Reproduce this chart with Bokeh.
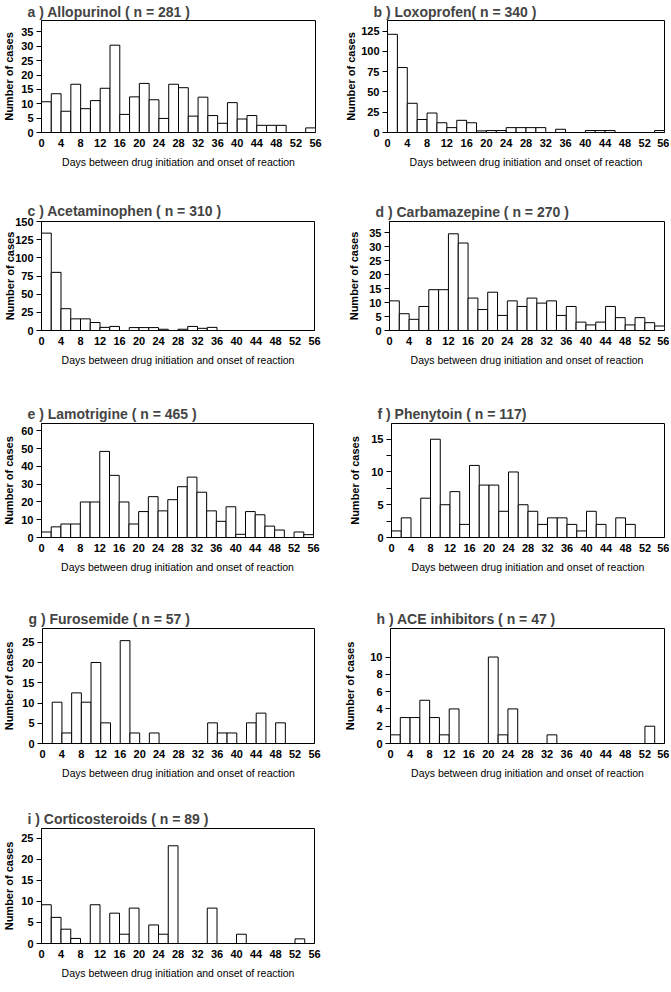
from bokeh.plotting import figure
from bokeh.layouts import column, row
from bokeh.models import FixedTicker, Range1d, ColumnDataSource, Spacer
from bokeh.embed import file_html
from bokeh.resources import INLINE

# ---------------- data ----------------
bin_starts = list(range(0, 56, 2))          # 2-day bins, 0..56
x_ticks = list(range(0, 57, 4))
x_label = "Days between drug initiation and onset of reaction"
y_label = "Number of cases"

allopurinol = [10.7, 13.5, 7.4, 16.8, 8.3, 11.1, 15.4, 30.4, 6.3, 12.4, 17.1, 11.4, 4.9, 16.8,
               15.6, 5.7, 12.3, 5.9, 3.2, 10.4, 4.7, 5.9, 2.5, 2.5, 2.5, 0, 0, 1.6]
loxoprofen = [121, 80, 36, 16, 24, 12, 6, 15, 12, 2, 2.4, 2.4, 6, 6,
              6, 6, 0, 4, 0, 0, 2.4, 2.4, 2.4, 0, 0, 0, 0, 2.4]
acetaminophen = [134, 80, 30, 16, 16, 11, 4.3, 5.6, 0, 4, 4, 4, 1.7, 0,
                 1.7, 5.6, 3, 4.3, 0, 0, 0, 0, 0, 0, 0, 0, 0, 0]
carbamazepine = [10.6, 6, 4, 8.6, 14.6, 14.6, 34.6, 31.3, 11.6, 7.5, 13.7, 5.4, 10.6, 8.6,
                 11.6, 9.8, 10.6, 5.4, 8.6, 3, 2, 3, 8.6, 4.6, 2, 4.6, 2.8, 1.6]
lamotrigine = [3.1, 6, 7.6, 7.6, 20, 20, 48.5, 35, 20, 7.6, 14.6, 23, 15, 21.3,
               28.6, 34, 25.5, 15, 9.1, 17.3, 1.8, 14.6, 12.8, 6.4, 4.2, 0, 3.1, 1.6]
phenytoin = [1, 3, 0, 6, 15, 5, 7, 2, 11, 8, 8, 4, 10, 5,
             4, 2, 3, 3, 2, 1, 4, 2, 0, 3, 2, 0, 0, 0]
furosemide = [0, 10.2, 2.6, 12.5, 10.2, 20, 5.1, 0, 25.4, 2.6, 0, 2.6, 0, 0,
              0, 0, 0, 5.1, 2.6, 2.6, 0, 5.1, 7.5, 0, 5.1, 0, 0, 0]
ace_inhibitors = [1, 3, 3, 5, 3, 1, 4, 0, 0, 0, 10, 1, 4, 0,
                  0, 0, 1, 0, 0, 0, 0, 0, 0, 0, 0, 0, 2, 0]
corticosteroids = [9.2, 6.2, 3.4, 1.2, 0, 9.2, 0, 7.2, 2.2, 8.4, 0, 4.4, 2.2, 23.2,
                   0, 0, 0, 8.4, 0, 0, 2.2, 0, 0, 0, 0, 0, 1.1, 0]

titles = ["a )  Allopurinol  ( n = 281 )", "b )  Loxoprofen( n = 340 )",
          "c )  Acetaminophen  ( n = 310 )", "d )  Carbamazepine  ( n = 270 )",
          "e )  Lamotrigine ( n = 465 )", "f )  Phenytoin   ( n = 117)",
          "g )  Furosemide ( n = 57 )", "h )  ACE inhibitors  ( n = 47 )",
          "i )  Corticosteroids  ( n = 89 )"]

y_maxes = [39, 138, 150, 39, 64.2, 17.4, 28.4, 13.3, 27.3]
y_ticks = [list(range(0, 36, 5)), list(range(0, 126, 25)), list(range(0, 151, 25)),
           list(range(0, 36, 5)), list(range(0, 61, 10)), [0, 5, 10, 15],
           list(range(0, 26, 5)), list(range(0, 11, 2)), list(range(0, 26, 5))]
y_minor = [[], [], [], [], [], [2.5, 7.5, 12.5], [], [], []]

FONT = "Liberation Sans"

# (width, height, border left, right, top, bottom, y-label standoff, title standoff)
geom = [
    (335, 186, 41, 20, 18, 54, 3, 2),    # a
    (334, 186, 52, 5, 18, 54, 1, 2),     # b
    (335, 204, 41, 21, 35, 56, -4, 6),   # c
    (334, 204, 54, 5, 31, 60, 6, 4),     # d
    (335, 206, 41, 22, 33, 58, 3, 4),    # e
    (334, 206, 56, 5, 32, 59, 7, 4),     # f
    (335, 202, 42, 21, 32, 55, 4, 4),    # g
    (334, 202, 55, 5, 32, 53, 11, 4),    # h
    (335, 192, 41, 21, 30, 47, 3, 4),    # i
]


def panel(title, values, ymax, ticks, minor, g):
    w, h, bl, br, bt, bb, ylstand, tstand = g
    p = figure(width=w, height=h, output_backend="svg", toolbar_location=None,
               x_range=Range1d(0, 56), y_range=Range1d(0, ymax),
               min_border_left=bl, min_border_right=br,
               min_border_top=bt, min_border_bottom=bb,
               title=title)
    lefts, rights, tops = [], [], []
    for s, v in zip(bin_starts, values):
        if v > 0:
            lefts.append(s)
            rights.append(s + 2)
            tops.append(v)
    src = ColumnDataSource(dict(left=lefts, right=rights, top=tops, bottom=[0] * len(tops)))
    p.quad(left="left", right="right", top="top", bottom="bottom", source=src,
           fill_color="white", line_color="black", line_width=1)

    p.title.text_font = FONT
    p.title.text_font_size = "14px"
    p.title.text_font_style = "bold"
    p.title.align = "left"
    p.title.offset = -14
    p.title.standoff = tstand

    p.xgrid.grid_line_color = None
    p.ygrid.grid_line_color = None
    p.outline_line_color = "black"
    p.outline_line_width = 1
    p.background_fill_color = "white"
    p.border_fill_color = "white"

    xa = p.xaxis[0]
    xa.ticker = FixedTicker(ticks=x_ticks)
    xa.major_tick_out = 0
    xa.major_tick_in = 0
    xa.minor_tick_line_color = None
    xa.major_label_standoff = 6
    xa.major_label_text_font = FONT
    xa.major_label_text_font_size = "11px"
    xa.major_label_text_font_style = "bold"
    xa.major_label_text_color = "black"
    xa.axis_label = x_label
    xa.axis_label_text_font = FONT
    xa.axis_label_text_font_size = "10.5px"
    xa.axis_label_text_font_style = "normal"
    xa.axis_label_text_color = "black"
    xa.axis_label_standoff = 6
    xa.axis_line_color = "black"

    ya = p.yaxis[0]
    ya.ticker = FixedTicker(ticks=ticks, minor_ticks=minor)
    ya.major_tick_out = 5
    ya.major_tick_in = 0
    ya.major_tick_line_color = "black"
    if minor:
        ya.minor_tick_out = 5
        ya.minor_tick_in = 0
        ya.minor_tick_line_color = "black"
    else:
        ya.minor_tick_line_color = None
    ya.major_label_standoff = 3
    ya.major_label_text_font = FONT
    ya.major_label_text_font_size = "11px"
    ya.major_label_text_font_style = "bold"
    ya.major_label_text_color = "black"
    ya.axis_label = y_label
    ya.axis_label_text_font = FONT
    ya.axis_label_text_font_size = "11px"
    ya.axis_label_text_font_style = "bold"
    ya.axis_label_text_color = "black"
    ya.axis_label_standoff = ylstand
    ya.axis_line_color = "black"
    return p


series = [allopurinol, loxoprofen, acetaminophen, carbamazepine, lamotrigine,
          phenytoin, furosemide, ace_inhibitors, corticosteroids]
plots = [panel(t, v, m, tk, mn, g) for t, v, m, tk, mn, g in
         zip(titles, series, y_maxes, y_ticks, y_minor, geom)]

layout = column(
    row(plots[0], plots[1]),
    row(plots[2], plots[3]),
    row(plots[4], plots[5]),
    row(plots[6], plots[7]),
    row(plots[8], Spacer(width=334, height=192)),
)

open("out.html", "w").write(file_html(layout, INLINE))
